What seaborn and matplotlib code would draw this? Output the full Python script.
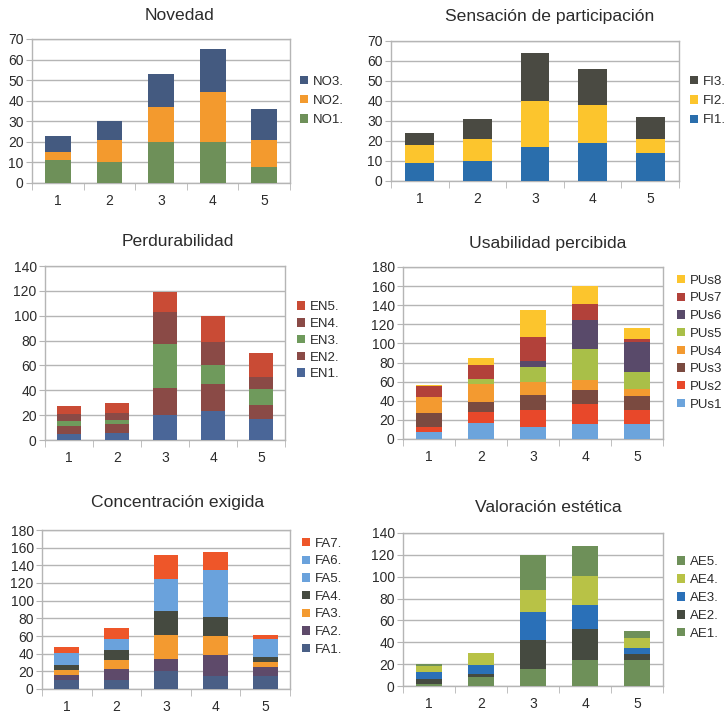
import matplotlib
matplotlib.use("Agg")
import matplotlib.pyplot as plt
from matplotlib.patches import Patch
from matplotlib.ticker import MultipleLocator, FixedLocator
import numpy as np
import seaborn as sns

sns.set_style("white")
plt.rcParams["font.family"] = ["Liberation Sans", "DejaVu Sans"]

categorias = ["1", "2", "3", "4", "5"]

# Novedad
no_series = ["NO1.", "NO2.", "NO3."]
no1 = [11, 10, 20, 20, 8]
no2 = [4, 11, 17, 24, 13]
no3 = [8, 9, 16, 21, 15]
no_colors = ["#6e9059", "#f39a2e", "#445a80"]

# Sensación de participación
fi_series = ["FI1.", "FI2.", "FI3."]
fi1 = [9, 10, 17, 19, 14]
fi2 = [9, 11, 23, 19, 7]
fi3 = [6, 10, 24, 18, 11]
fi_colors = ["#2a6eac", "#fcc52d", "#4a4a42"]

# Perdurabilidad
en_series = ["EN1.", "EN2.", "EN3.", "EN4.", "EN5."]
en1 = [5, 6, 20, 23, 17]
en2 = [6, 7, 22, 22, 11]
en3 = [4, 3, 35, 15, 13]
en4 = [6, 6, 26, 19, 10]
en5 = [6, 8, 16, 21, 19]
en_colors = ["#4a6698", "#8a4a46", "#6f9a5c", "#8a4a46", "#c94b35"]

# Usabilidad percibida
pu_series = ["PUs1", "PUs2", "PUs3", "PUs4", "PUs5", "PUs6", "PUs7", "PUs8"]
pu1 = [7, 17, 13, 16, 16]
pu2 = [6, 11, 17, 21, 14]
pu3 = [14, 11, 16, 14, 15]
pu4 = [17, 19, 14, 11, 7]
pu5 = [0, 5, 15, 32, 18]
pu6 = [0, 0, 7, 31, 32]
pu7 = [11, 14, 25, 16, 3]
pu8 = [2, 8, 28, 19, 11]
pu_colors = ["#6ca4dc", "#e8482a", "#7a4a40", "#f39a30", "#a9bf48",
             "#594a6a", "#b2413a", "#fcc52d"]

# Concentración exigida
fa_series = ["FA1.", "FA2.", "FA3.", "FA4.", "FA5.", "FA6.", "FA7."]
fa1 = [10, 10, 20, 15, 15]
fa2 = [6, 13, 14, 24, 10]
fa3 = [6, 10, 27, 21, 6]
fa4 = [5, 11, 27, 22, 5]
fa5 = [8, 7, 20, 28, 11]
fa6 = [6, 6, 17, 25, 10]
fa7 = [7, 12, 27, 20, 4]
fa_colors = ["#4a5f86", "#5e4a6a", "#f39a30", "#454a40", "#6aa2dc",
             "#6aa2dc", "#ee5629"]

# Valoración estética
ae_series = ["AE1.", "AE2.", "AE3.", "AE4.", "AE5."]
ae1 = [2, 8, 16, 24, 24]
ae2 = [4, 3, 26, 28, 5]
ae3 = [7, 8, 26, 22, 6]
ae4 = [5, 11, 20, 27, 9]
ae5 = [2, 0, 32, 27, 6]
ae_colors = ["#6e9059", "#454a40", "#2a70b8", "#b8c246", "#6e9059"]

W, H = 727, 713
fig = plt.figure(figsize=(W / 100, H / 100), dpi=100)
fig.patch.set_facecolor("white")

GRID = "#b5b5b5"
TXT = "#2b2b2b"
TICK_FS = 10
LEG_FS = 9.5


def panel(box, title, title_xy, series, values, colors, ymax, ystep,
          leg_y, leg_gap, leg_spacing):
    left, right, top, bottom = box
    ax = fig.add_axes([left / W, 1 - bottom / H, (right - left) / W,
                       (bottom - top) / H])
    cum = np.cumsum(np.array(values, dtype=float), axis=0)
    # draw from the tallest cumulative layer down so lower layers sit on top
    for i in range(len(series) - 1, -1, -1):
        sns.barplot(x=categorias, y=cum[i], color=colors[i], saturation=1,
                    width=0.5, errorbar=None, ax=ax, zorder=3,
                    linewidth=0, edgecolor="none")
    ax.set_xlim(-0.5, 4.5)
    ax.set_ylim(0, ymax)
    ax.yaxis.set_major_locator(MultipleLocator(ystep))
    ax.set_xlabel("")
    ax.set_ylabel("")
    ax.grid(axis="y", color=GRID, linewidth=1.0, zorder=0)
    ax.grid(axis="x", visible=False)
    ax.set_axisbelow(True)
    for s in ax.spines.values():
        s.set_color(GRID)
        s.set_linewidth(1.0)
    ax.xaxis.set_minor_locator(FixedLocator(np.arange(-0.5, 5, 1.0)))
    ax.tick_params(axis="x", which="major", length=0, labelsize=TICK_FS,
                   labelcolor=TXT, pad=8)
    ax.tick_params(axis="x", which="minor", length=5, color=GRID,
                   direction="out", bottom=True)
    ax.tick_params(axis="y", which="major", length=4, color=GRID,
                   direction="out", labelsize=TICK_FS, labelcolor=TXT, pad=2,
                   left=True)
    fig.text(title_xy[0] / W, 1 - title_xy[1] / H, title, ha="center",
             va="center", fontsize=12.6, color=TXT)
    handles = [Patch(facecolor=colors[i], edgecolor="none", label=series[i])
               for i in range(len(series) - 1, -1, -1)]
    ax.legend(handles=handles, loc="center left",
              bbox_to_anchor=(1 + leg_gap / (right - left), leg_y),
              frameon=False, fontsize=LEG_FS, handlelength=0.6,
              handleheight=0.6, handletextpad=0.35, labelspacing=leg_spacing,
              borderpad=0, borderaxespad=0, labelcolor=TXT)
    return ax


panel((32, 290, 39, 183), "Novedad", (180, 15), no_series,
      [no1, no2, no3], no_colors, 70, 10, 0.57, 10, 0.55)
panel((391, 679, 41, 181), "Sensación de participación", (550, 16),
      fi_series, [fi1, fi2, fi3], fi_colors, 70, 10, 0.57, 11, 0.55)
panel((45, 285, 266, 440), "Perdurabilidad", (178, 241), en_series,
      [en1, en2, en3, en4, en5], en_colors, 140, 20, 0.57, 12, 0.36)
panel((403, 663, 267, 439), "Usabilidad percibida", (548, 243), pu_series,
      [pu1, pu2, pu3, pu4, pu5, pu6, pu7, pu8], pu_colors, 180, 20, 0.56,
      14, 0.43)
panel((42, 290, 530, 689), "Concentración exigida", (178, 503), fa_series,
      [fa1, fa2, fa3, fa4, fa5, fa6, fa7], fa_colors, 180, 20, 0.58, 12, 0.43)
panel((403, 663, 533, 686), "Valoración estética", (548, 507), ae_series,
      [ae1, ae2, ae3, ae4, ae5], ae_colors, 140, 20, 0.575, 14, 0.45)

fig.savefig("out.png", dpi=100, facecolor="white")
